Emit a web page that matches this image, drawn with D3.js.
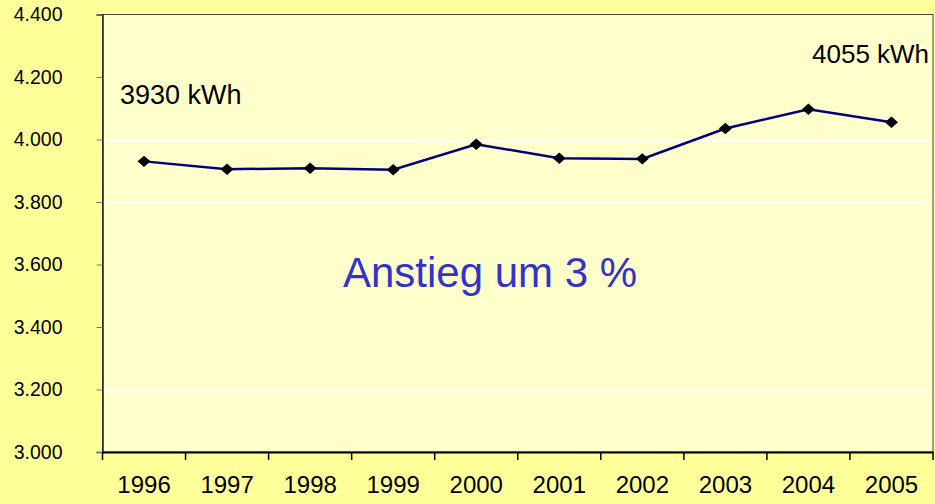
<html>
<head>
<meta charset="utf-8">
<script src="https://cdnjs.cloudflare.com/ajax/libs/d3/7.8.5/d3.min.js"></script>
<style>
  body { margin: 0; background: #FFFF99; }
  svg { display: block; font-family: "Liberation Sans", Arial, sans-serif; }
</style>
</head>
<body>
<div id="chart"></div>
<script>
// data
var years = ["1996","1997","1998","1999","2000","2001","2002","2003","2004","2005"];
var verbrauch = [3930, 3905, 3908, 3903, 3985, 3940, 3938, 4035, 4097, 4055];
var yTicks = [3000, 3200, 3400, 3600, 3800, 4000, 4200, 4400];
var notes = [
  { text: "3930 kWh", x: 120, y: 104, size: 27, color: "#000" },
  { text: "4055 kWh", x: 812, y: 63, size: 26, color: "#000" },
  { text: "Anstieg um 3 %", x: 343, y: 287, size: 42, color: "#3333CC" }
];

var W = 935, H = 504;
var pL = 102.5, pR = 933, pT = 14.5, pB = 452;

var svg = d3.select("#chart").append("svg")
  .attr("width", W).attr("height", H);

svg.append("rect").attr("width", W).attr("height", H).attr("fill", "#FFFF99");

var x = d3.scaleBand().domain(years).range([pL, pR]);
var y = d3.scaleLinear().domain([3000, 4400]).range([pB, pT]);

// plot area
svg.append("rect")
  .attr("x", pL).attr("y", pT)
  .attr("width", pR - pL).attr("height", pB - pT)
  .attr("fill", "#FFFFCC")
  .attr("stroke", "#444").attr("stroke-width", 1);

// grid
svg.append("g").selectAll("line")
  .data(yTicks.slice(1, -1))
  .enter().append("line")
  .attr("x1", pL).attr("x2", pR - 1)
  .attr("y1", function(d){ return Math.round(y(d)) + 0.5; })
  .attr("y2", function(d){ return Math.round(y(d)) + 0.5; })
  .attr("stroke", "#fff").attr("stroke-width", 1);

// y axis
var yAxis = svg.append("g")
  .attr("transform", "translate(" + pL + ",0)")
  .call(d3.axisLeft(y).tickValues(yTicks).tickSize(6).tickPadding(34)
    .tickFormat(function(d){ return d3.format(".3f")(d/1000); }));
yAxis.select(".domain").attr("stroke", "#222").attr("stroke-width", 1.5);
yAxis.selectAll(".tick line").attr("stroke", "#777");
yAxis.selectAll("text").attr("font-size", 19.5).attr("fill", "#000")
  .attr("font-family", "Liberation Sans, Arial, sans-serif");

// x axis
var xAxis = svg.append("g")
  .attr("transform", "translate(0," + pB + ")")
  .call(d3.axisBottom(x).tickSize(0).tickPadding(24));
xAxis.select(".domain").attr("stroke", "#000").attr("stroke-width", 2);
xAxis.selectAll("text").attr("font-size", 24).attr("fill", "#000")
  .attr("font-family", "Liberation Sans, Arial, sans-serif");

var xt = years.map(function(d){ return x(d); }).concat([pR]);
svg.append("g").selectAll("line")
  .data(xt)
  .enter().append("line")
  .attr("x1", function(d){ return d; }).attr("x2", function(d){ return d; })
  .attr("y1", pB).attr("y2", pB + 8)
  .attr("stroke", "#000").attr("stroke-width", 1.5);

// line
var line = d3.line()
  .x(function(d, i){ return x(years[i]) + x.bandwidth()/2; })
  .y(function(d){ return y(d); });

svg.append("path")
  .datum(verbrauch)
  .attr("d", line)
  .attr("fill", "none")
  .attr("stroke", "#000080")
  .attr("stroke-width", 2.5);

svg.append("g").selectAll("path")
  .data(verbrauch)
  .enter().append("path")
  .attr("d", d3.symbol().type(d3.symbolSquare).size(72))
  .attr("transform", function(d, i){
    return "translate(" + (x(years[i]) + x.bandwidth()/2) + "," + y(d) + ") scale(1.08,0.95) rotate(45)";
  })
  .attr("fill", "#000");

// labels
svg.append("g").selectAll("text")
  .data(notes)
  .enter().append("text")
  .attr("x", function(d){ return d.x; })
  .attr("y", function(d){ return d.y; })
  .attr("font-size", function(d){ return d.size; })
  .attr("fill", function(d){ return d.color; })
  .text(function(d){ return d.text; });
</script>
</body>
</html>
